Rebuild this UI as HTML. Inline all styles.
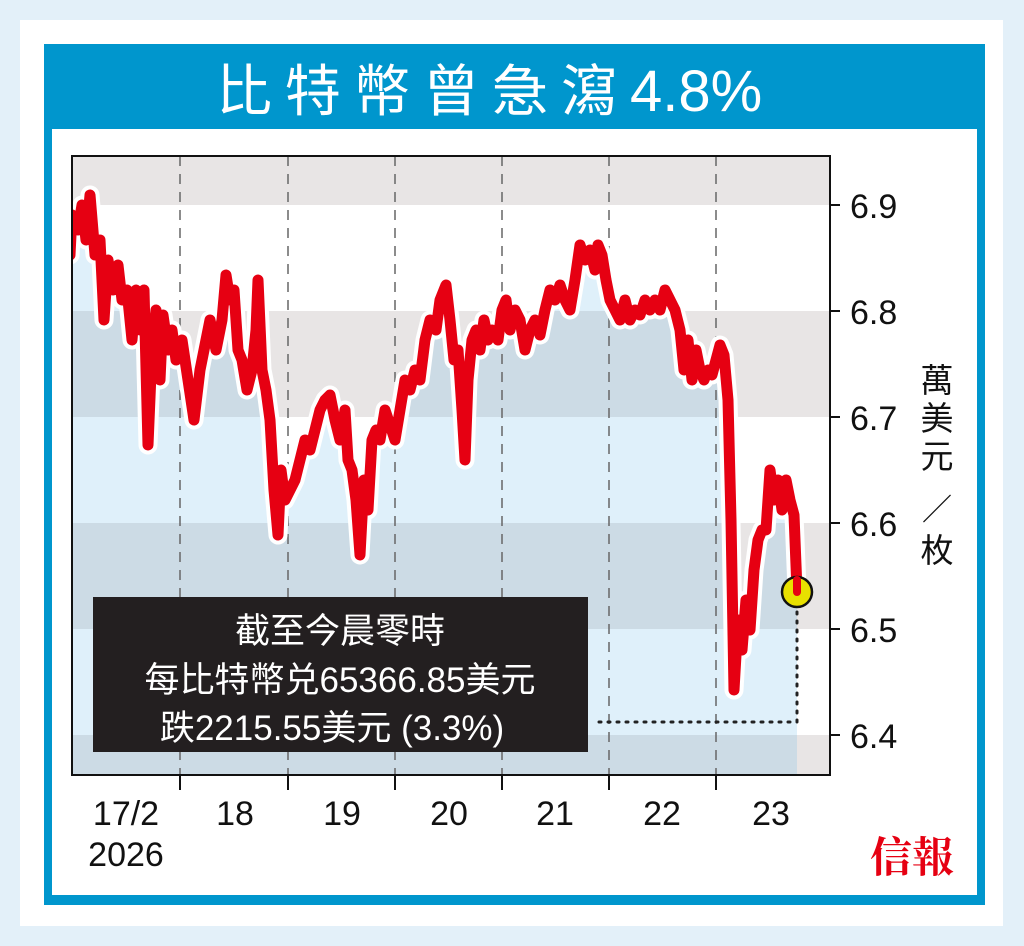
<!DOCTYPE html>
<html><head><meta charset="utf-8"><style>
html,body{margin:0;padding:0;background:#e3f0f9;}
svg{display:block;}
text{font-family:"Liberation Sans","Noto Sans CJK TC",sans-serif;}
</style></head><body>
<svg width="1024" height="946" viewBox="0 0 1024 946" xmlns="http://www.w3.org/2000/svg">
<defs>
<clipPath id="pc"><rect x="72" y="156" width="758" height="619"/></clipPath>
</defs>
<rect x="20" y="20" width="983" height="906" fill="#fff"/>
<rect x="44" y="44" width="941" height="861" fill="#0096cd"/>
<rect x="52" y="129" width="925" height="766" fill="#fff"/>
<text x="216" y="111" fill="#fff" font-size="56"><tspan letter-spacing="13">比特幣曾急瀉</tspan><tspan font-size="58">4.8%</tspan></text>
<g clip-path="url(#pc)">
<rect x="72" y="156" width="758" height="619" fill="#fff"/>
<rect x="72" y="156" width="758" height="49" fill="#e8e5e5"/>
<rect x="72" y="311" width="758" height="106" fill="#e8e5e5"/>
<rect x="72" y="523" width="758" height="106" fill="#e8e5e5"/>
<rect x="72" y="735" width="758" height="40" fill="#e8e5e5"/>
<polygon fill="#5fb4e6" fill-opacity="0.2" points="70,255 72,215 78,230 82,205 86,240 90,195 95,255 100,240 104,320 108,260 113,290 118,265 122,300 127,290 132,340 136,290 140,330 144,290 148,445 152,350 156,310 160,380 163,315 168,350 172,330 176,360 182,340 188,380 194,420 200,370 206,340 210,320 216,350 222,320 226,275 230,300 234,290 238,350 242,360 247,390 252,370 256,330 258,280 262,370 266,390 270,420 274,490 278,535 281,470 285,500 290,490 295,480 300,460 305,440 310,450 315,430 320,410 325,400 330,395 335,420 340,440 345,410 348,460 352,470 356,500 360,555 364,480 368,510 372,440 376,430 380,440 385,410 390,425 395,440 400,410 405,380 410,390 415,370 420,380 425,340 430,320 436,330 440,300 446,285 450,320 454,360 458,350 462,410 465,460 468,380 472,340 476,330 480,350 484,320 488,340 492,330 498,340 502,310 506,300 510,330 515,310 520,320 525,350 530,330 535,320 540,335 545,310 550,290 555,300 560,285 565,300 570,310 575,280 580,245 585,260 590,250 595,270 598,245 602,255 606,280 610,300 615,310 620,320 625,300 630,320 635,310 640,315 645,300 650,310 655,300 660,310 665,290 670,300 675,310 680,330 684,370 688,340 692,380 696,350 700,370 704,380 708,370 712,375 716,360 720,345 724,355 728,400 731,520 734,690 738,620 742,650 746,600 750,630 754,570 758,540 762,530 766,530 770,470 774,500 778,480 782,510 786,480 790,500 794,515 797,590 797,775 70,775"/>
<g stroke="#666" stroke-width="1.5" stroke-dasharray="10,8">
<line x1="180" y1="156" x2="180" y2="775"/><line x1="288" y1="156" x2="288" y2="775"/>
<line x1="395" y1="156" x2="395" y2="775"/><line x1="502" y1="156" x2="502" y2="775"/>
<line x1="609" y1="156" x2="609" y2="775"/><line x1="716" y1="156" x2="716" y2="775"/>
</g>
<g fill="none" stroke-linejoin="round" stroke-linecap="round">
<polyline stroke="#fff" stroke-width="19" points="70,255 72,215 78,230 82,205 86,240 90,195 95,255 100,240 104,320 108,260 113,290 118,265 122,300 127,290 132,340 136,290 140,330 144,290 148,445 152,350 156,310 160,380 163,315 168,350 172,330 176,360 182,340 188,380 194,420 200,370 206,340 210,320 216,350 222,320 226,275 230,300 234,290 238,350 242,360 247,390 252,370 256,330 258,280 262,370 266,390 270,420 274,490 278,535 281,470 285,500 290,490 295,480 300,460 305,440 310,450 315,430 320,410 325,400 330,395 335,420 340,440 345,410 348,460 352,470 356,500 360,555 364,480 368,510 372,440 376,430 380,440 385,410 390,425 395,440 400,410 405,380 410,390 415,370 420,380 425,340 430,320 436,330 440,300 446,285 450,320 454,360 458,350 462,410 465,460 468,380 472,340 476,330 480,350 484,320 488,340 492,330 498,340 502,310 506,300 510,330 515,310 520,320 525,350 530,330 535,320 540,335 545,310 550,290 555,300 560,285 565,300 570,310 575,280 580,245 585,260 590,250 595,270 598,245 602,255 606,280 610,300 615,310 620,320 625,300 630,320 635,310 640,315 645,300 650,310 655,300 660,310 665,290 670,300 675,310 680,330 684,370 688,340 692,380 696,350 700,370 704,380 708,370 712,375 716,360 720,345 724,355 728,400 731,520 734,690 738,620 742,650 746,600 750,630 754,570 758,540 762,530 766,530 770,470 774,500 778,480 782,510 786,480 790,500 794,515 797,590"/>
<polyline stroke="#e60012" stroke-width="11" points="70,255 72,215 78,230 82,205 86,240 90,195 95,255 100,240 104,320 108,260 113,290 118,265 122,300 127,290 132,340 136,290 140,330 144,290 148,445 152,350 156,310 160,380 163,315 168,350 172,330 176,360 182,340 188,380 194,420 200,370 206,340 210,320 216,350 222,320 226,275 230,300 234,290 238,350 242,360 247,390 252,370 256,330 258,280 262,370 266,390 270,420 274,490 278,535 281,470 285,500 290,490 295,480 300,460 305,440 310,450 315,430 320,410 325,400 330,395 335,420 340,440 345,410 348,460 352,470 356,500 360,555 364,480 368,510 372,440 376,430 380,440 385,410 390,425 395,440 400,410 405,380 410,390 415,370 420,380 425,340 430,320 436,330 440,300 446,285 450,320 454,360 458,350 462,410 465,460 468,380 472,340 476,330 480,350 484,320 488,340 492,330 498,340 502,310 506,300 510,330 515,310 520,320 525,350 530,330 535,320 540,335 545,310 550,290 555,300 560,285 565,300 570,310 575,280 580,245 585,260 590,250 595,270 598,245 602,255 606,280 610,300 615,310 620,320 625,300 630,320 635,310 640,315 645,300 650,310 655,300 660,310 665,290 670,300 675,310 680,330 684,370 688,340 692,380 696,350 700,370 704,380 708,370 712,375 716,360 720,345 724,355 728,400 731,520 734,690 738,620 742,650 746,600 750,630 754,570 758,540 762,530 766,530 770,470 774,500 778,480 782,510 786,480 790,500 794,515 797,590"/>
</g>
</g>
<polyline points="797,612 797,722 595,722" fill="none" stroke="#222" stroke-width="3" stroke-dasharray="2,7" stroke-linecap="round"/>
<circle cx="797" cy="592" r="15" fill="#e8e000" stroke="#111" stroke-width="2.5"/>
<path d="M797,580 L797,592" stroke="#e60012" stroke-width="8" stroke-linecap="round"/>
<rect x="72" y="156" width="758" height="619" fill="none" stroke="#111" stroke-width="2"/>
<g stroke="#111" stroke-width="2">
<line x1="830" y1="205" x2="840" y2="205"/><line x1="830" y1="311" x2="840" y2="311"/>
<line x1="830" y1="417" x2="840" y2="417"/><line x1="830" y1="523" x2="840" y2="523"/>
<line x1="830" y1="629" x2="840" y2="629"/><line x1="830" y1="735" x2="840" y2="735"/>
<line x1="180" y1="775" x2="180" y2="790"/><line x1="288" y1="775" x2="288" y2="790"/>
<line x1="395" y1="775" x2="395" y2="790"/><line x1="502" y1="775" x2="502" y2="790"/>
<line x1="609" y1="775" x2="609" y2="790"/><line x1="716" y1="775" x2="716" y2="790"/>
</g>
<g font-size="34" fill="#111">
<text x="850" y="218">6.9</text><text x="850" y="324">6.8</text><text x="850" y="430">6.7</text>
<text x="850" y="536">6.6</text><text x="850" y="642">6.5</text><text x="850" y="748">6.4</text>
</g>
<g font-size="34" fill="#111" text-anchor="middle">
<text x="126" y="825">17/2</text><text x="126" y="866">2026</text>
<text x="235" y="825">18</text><text x="342" y="825">19</text><text x="449" y="825">20</text>
<text x="555" y="825">21</text><text x="662" y="825">22</text><text x="771" y="825">23</text>
</g>
<g font-size="33" fill="#111" text-anchor="middle">
<text x="937" y="392">萬</text><text x="937" y="430">美</text><text x="937" y="468">元</text>
<text x="937" y="520" font-size="30">／</text><text x="937" y="562">枚</text>
</g>
<rect x="93" y="597" width="495" height="155" fill="#231f20"/>
<g font-size="35" fill="#fff" text-anchor="middle">
<text x="340" y="643">截至今晨零時</text>
<text x="340" y="692">每比特幣兑65366.85美元</text>
<text x="332" y="740">跌2215.55美元 (3.3%)</text>
</g>
<text x="912" y="872" font-size="42" font-weight="bold" fill="#e60012" text-anchor="middle" style="font-family:'Noto Serif CJK SC',serif">信報</text>
</svg>
</body></html>
